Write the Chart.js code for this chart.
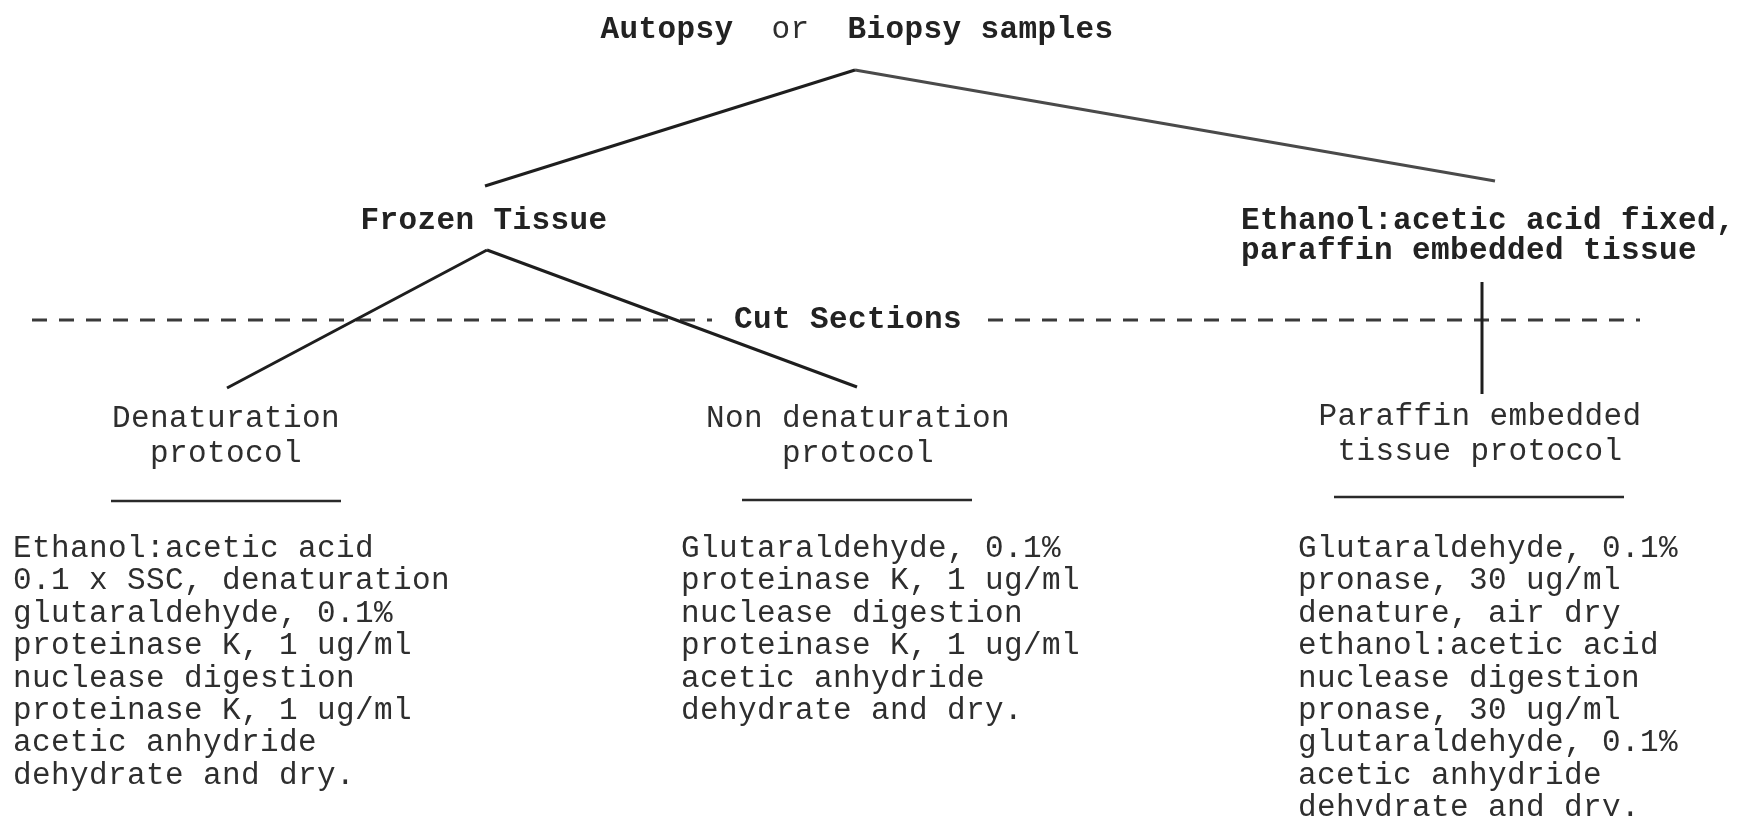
<!DOCTYPE html>
<html>
<head>
<meta charset="utf-8">
<script src="https://cdn.jsdelivr.net/npm/chart.js@4.4.1/dist/chart.umd.min.js"></script>
<style>
  body { margin: 0; background: #fff; overflow: hidden; }
  #wrap { position: relative; width: 1740px; height: 816px; }
  #flow { position: absolute; left: 0; top: 0; }
  #labels { position: absolute; left: 0; top: 0; width: 1740px; height: 816px; }
  .txt {
    position: absolute;
    white-space: pre;
    font-family: "Liberation Mono", "DejaVu Sans Mono", monospace;
    font-size: 31px;
    letter-spacing: 0.4px;
    line-height: 32px;
    height: 32px;
    color: #2e2e2e;
  }
  .txt b { font-weight: bold; color: #222; }
</style>
</head>
<body>
<div id="wrap">
  <canvas id="flow" width="1740" height="816"></canvas>
  <div id="labels"></div>
</div>
<script>
// diagram space is the page size
const W = 1740;
const H = 816;

// root label, words and their weight
const rootWords = ["Autopsy", "  or  ", "Biopsy samples"];
const rootBold = [true, false, true];
const rootX = 857;
const rootY = 30;

// nodes of the tree
const nodeLines = [
  ["Frozen Tissue"],
  ["Ethanol:acetic acid fixed,", "paraffin embedded tissue"],
  ["Cut Sections"],
  ["Denaturation", "protocol"],
  ["Non denaturation", "protocol"],
  ["Paraffin embedded", "tissue protocol"],
];
const nodeBold = [true, true, true, false, false, false];
const nodeAlign = ["center", "left", "center", "center", "center", "center"];
const nodeX = [484, 1241, 848, 226, 858, 1480];
const nodeY = [221, 221, 320, 419, 419, 417];
const nodeGap = [0, 30, 0, 35, 35, 35];

// protocol steps under each leaf
const protocolSteps = [
  [
    "Ethanol:acetic acid",
    "0.1 x SSC, denaturation",
    "glutaraldehyde, 0.1%",
    "proteinase K, 1 ug/ml",
    "nuclease digestion",
    "proteinase K, 1 ug/ml",
    "acetic anhydride",
    "dehydrate and dry.",
  ],
  [
    "Glutaraldehyde, 0.1%",
    "proteinase K, 1 ug/ml",
    "nuclease digestion",
    "proteinase K, 1 ug/ml",
    "acetic anhydride",
    "dehydrate and dry.",
  ],
  [
    "Glutaraldehyde, 0.1%",
    "pronase, 30 ug/ml",
    "denature, air dry",
    "ethanol:acetic acid",
    "nuclease digestion",
    "pronase, 30 ug/ml",
    "glutaraldehyde, 0.1%",
    "acetic anhydride",
    "dehydrate and dry.",
  ],
];
const stepX = [13, 681, 1298];
const stepTop = 549;
const stepGap = 32.4;

// tree branches (from -> to)
const branchX1 = [855, 855, 487, 487, 1482];
const branchY1 = [70, 70, 250, 250, 282];
const branchX2 = [485, 1495, 227, 857, 1482];
const branchY2 = [186, 181, 388, 387, 394];

// short rules under the protocol names
const ruleX1 = [111, 742, 1334];
const ruleX2 = [341, 972, 1624];
const ruleY = [501, 500, 497];

// dashed "cut sections" line, split round its label
const cutX1 = [32, 988];
const cutX2 = [712, 1640];
const cutY = 320;

// Build line datasets
const datasets = [];

branchX1.forEach((x, i) => {
  datasets.push({
    data: [
      { x: x, y: branchY1[i] },
      { x: branchX2[i], y: branchY2[i] },
    ],
    borderColor: i === 1 ? "#4a4a4a" : "#1e1e1e",
    borderWidth: 3,
  });
});

ruleX1.forEach((x, i) => {
  datasets.push({
    data: [
      { x: x, y: ruleY[i] },
      { x: ruleX2[i], y: ruleY[i] },
    ],
    borderColor: "#2a2a2a",
    borderWidth: 2.5,
  });
});

cutX1.forEach((x, i) => {
  datasets.push({
    data: [
      { x: x, y: cutY },
      { x: cutX2[i], y: cutY },
    ],
    borderColor: "#3a3a3a",
    borderWidth: 3,
    borderDash: [15, 12],
  });
});

datasets.forEach((d) => {
  d.showLine = true;
  d.pointRadius = 0;
  d.fill = false;
});

// Put the text as html on top, placed through the chart scales
function addLine(layer, html, px, py, align) {
  const el = document.createElement("div");
  el.className = "txt";
  el.innerHTML = html;
  el.style.top = py - 16 + "px";
  el.style.left = px + "px";
  if (align === "center") {
    el.style.transform = "translateX(-50%)";
  }
  layer.appendChild(el);
}

function escapeText(s) {
  return s.replace(/&/g, "&amp;").replace(/</g, "&lt;");
}

const labelPlugin = {
  id: "htmlLabels",
  afterDraw(chart) {
    const xs = chart.scales.x;
    const ys = chart.scales.y;
    const layer = document.getElementById("labels");
    layer.innerHTML = "";

    // root
    let html = "";
    rootWords.forEach((w, i) => {
      html += rootBold[i] ? "<b>" + escapeText(w) + "</b>" : escapeText(w);
    });
    addLine(layer, html, xs.getPixelForValue(rootX), ys.getPixelForValue(rootY), "center");

    // nodes
    nodeLines.forEach((lines, i) => {
      lines.forEach((line, j) => {
        const t = nodeBold[i] ? "<b>" + escapeText(line) + "</b>" : escapeText(line);
        addLine(
          layer,
          t,
          xs.getPixelForValue(nodeX[i]),
          ys.getPixelForValue(nodeY[i] + j * nodeGap[i]),
          nodeAlign[i]
        );
      });
    });

    // protocol steps
    protocolSteps.forEach((steps, i) => {
      steps.forEach((line, j) => {
        addLine(
          layer,
          escapeText(line),
          xs.getPixelForValue(stepX[i]),
          ys.getPixelForValue(stepTop + j * stepGap),
          "left"
        );
      });
    });
  },
};

const config = {
  type: "scatter",
  data: { datasets: datasets },
  options: {
    responsive: false,
    maintainAspectRatio: false,
    animation: false,
    layout: { padding: 0 },
    plugins: {
      legend: { display: false },
      tooltip: { enabled: false },
    },
    scales: {
      x: { type: "linear", min: 0, max: W, display: false },
      y: { type: "linear", min: 0, max: H, reverse: true, display: false },
    },
  },
  plugins: [labelPlugin],
};

const flowChart = new Chart(document.getElementById("flow"), config);
</script>
</body>
</html>
